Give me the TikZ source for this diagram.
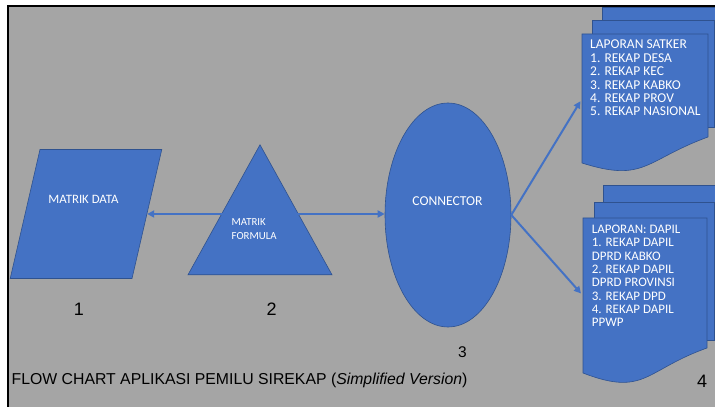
\documentclass[tikz,border=0pt]{standalone}
\usepackage{fontspec}
\setmainfont{Liberation Sans}
\newfontfamily\calib{Carlito}
\usetikzlibrary{arrows.meta,shapes.geometric,positioning}
\definecolor{boxblue}{HTML}{4472C4}
\definecolor{edgeblue}{HTML}{2F528F}
\definecolor{bggray}{HTML}{A5A5A5}

\begin{document}
\begin{tikzpicture}[x=1pt, y=1pt,
			shp/.style = {fill=boxblue, draw=edgeblue, line width=0.6pt},
			lbl/.style = {white, inner sep=0pt, font=\calib\fontsize{13}{14}\selectfont},
			doctxt/.style = {lbl, align=left, anchor=north west},
			docbox/.style = {inner sep=0pt, anchor=north west},
			num/.style = {black, inner sep=0pt, anchor=base, font=\fontsize{18}{20}\selectfont},
			link/.style = {draw=boxblue, line width=2pt, -{Triangle[length=7pt, width=7pt]}}
		]
		\useasboundingbox (0,0) rectangle (715,407);
		\clip (0,0) rectangle (715,407);
		\fill[white] (0,0) rectangle (715,407);
		\fill[bggray] (8,0) rectangle (715,401);

		\node [shp, trapezium, trapezium left angle=77, trapezium right angle=103,
			inner sep=0pt, text width=92pt, text height=129pt, text depth=0pt] (mdata) at (86,193) {};
		\node [shp, isosceles triangle, isosceles triangle stretches, shape border rotate=90,
			minimum width=144pt, minimum height=130pt, inner sep=0pt, anchor=apex] (tri) at (260,263) {};
		\node [shp, ellipse, minimum width=126pt, minimum height=224pt, inner sep=0pt] (conn) at (448,192) {};

		\node [lbl, anchor=base, font=\calib\fontsize{12.8}{14}\selectfont] (mdatalbl) at (83.5,203) {MATRIK DATA};
		\node [lbl, align=left, anchor=north west, font=\calib\fontsize{10.8}{14}\selectfont] (trilbl) at (231.5,189) {MATRIK\\FORMULA};
		\node [lbl, anchor=base, font=\calib\fontsize{13.6}{14}\selectfont] (connlbl) at (447.5,201) {CONNECTOR};

		\draw [shp] (602,294) rectangle (725,400);
		\draw [shp] (592,280) rectangle (714.5,387);
		\draw [shp] (582,373) -- (708,373) -- (708,270) .. controls (645,247) and (645,224) .. (582,244) -- cycle;
		\node [docbox, minimum width=126pt, minimum height=129pt] (doc1) at (582,373) {};
		\node [doctxt, font=\calib\fontsize{13.5}{13.4}\selectfont] (doc1txt) at (590,367)
			{LAPORAN SATKER\\1. REKAP DESA\\2. REKAP KEC\\3. REKAP KABKO\\4. REKAP PROV\\5. REKAP NASIONAL};

		\draw [shp] (603,80) rectangle (725,222);
		\draw [shp] (594,67) rectangle (714.5,205);
		\draw [shp] (583,189) -- (707,189) -- (707,59) .. controls (645,37) and (645,10) .. (583,34) -- cycle;
		\node [docbox, minimum width=124pt, minimum height=155pt] (doc2) at (583,189) {};
		\node [doctxt, font=\calib\fontsize{13}{13.3}\selectfont] (doc2txt) at (591.7,182)
			{LAPORAN: DAPIL\\1. REKAP DAPIL\\DPRD KABKO\\2. REKAP DAPIL\\DPRD PROVINSI\\3. REKAP DPD\\4. REKAP DAPIL\\PPWP};

		\draw [link] (tri.left side |- mdata.east) -- (mdata.east);
		\draw [link] (tri.right side |- mdata.east) -- (conn.west |- mdata.east);
		\draw [link, shorten >=3pt] (conn.east) -- (doc1.west);
		\draw [link, shorten >=3pt] (conn.east) -- (doc2.west);

		\node [num] (n1) at (79,91) {1};
		\node [num] (n2) at (271.7,91) {2};
		\node [num, font=\fontsize{15.5}{18}\selectfont] (n3) at (462.5,49) {3};
		\node [num] (n4) at (702,19) {4};
		\node [anchor=base west, inner sep=0pt, font=\fontsize{15.8}{18}\selectfont] (title) at (11.5,22)
			{FLOW CHART APLIKASI PEMILU SIREKAP (\textit{Simplified Version})};

		\draw [line width=1.2pt] (8,0) -- (8,401) -- (715,401);
	\end{tikzpicture}
\end{document}
